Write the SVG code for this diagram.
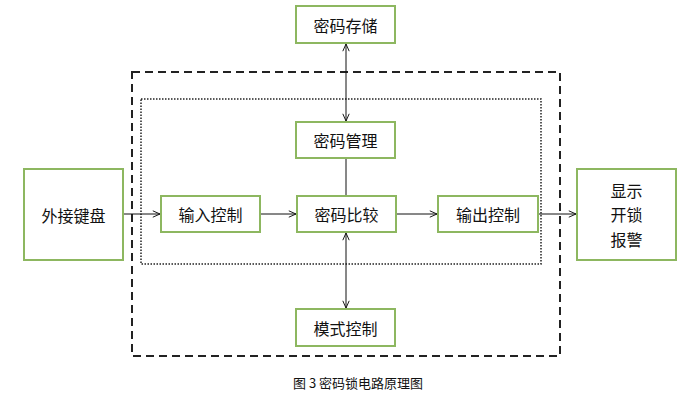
<svg xmlns="http://www.w3.org/2000/svg" width="698" height="414" viewBox="0 0 698 414">
<defs>
<style>
.box{fill:#fff;stroke:#8db760;stroke-width:2}
.t{font-family:"Noto Sans CJK SC","Noto Sans",sans-serif;font-size:16px;fill:#111;text-anchor:middle;dominant-baseline:central}
.c{font-family:"Noto Sans CJK SC","Noto Sans",sans-serif;font-size:13px;fill:#111;text-anchor:middle}
.ln{stroke:#111;stroke-width:1;fill:none}
</style>
<marker id="ah" viewBox="0 0 10 10" refX="10" refY="5" markerWidth="8" markerHeight="8" orient="auto-start-reverse" markerUnits="userSpaceOnUse">
<path d="M1,1 L10,5 L1,9" fill="none" stroke="#111" stroke-width="1.2"/>
</marker>
</defs>
<rect width="698" height="414" fill="#fff"/>
<rect x="132" y="72" width="428" height="284" fill="none" stroke="#222" stroke-width="2" stroke-dasharray="8,5"/>
<rect x="141" y="99" width="400" height="165" fill="none" stroke="#222" stroke-width="1.5" stroke-dasharray="1.5,1.5"/>
<g id="connectors">
<line class="ln" x1="346" y1="44" x2="346" y2="121" marker-start="url(#ah)" marker-end="url(#ah)"/>
<line class="ln" x1="346" y1="159" x2="346" y2="196"/>
<line class="ln" x1="346" y1="233" x2="346" y2="308" marker-start="url(#ah)" marker-end="url(#ah)"/>
<line class="ln" x1="124" y1="214" x2="160" y2="214" marker-end="url(#ah)"/>
<line class="ln" x1="261" y1="214" x2="296" y2="214" marker-end="url(#ah)"/>
<line class="ln" x1="397" y1="214" x2="437" y2="214" marker-end="url(#ah)"/>
<line class="ln" x1="539" y1="214" x2="576" y2="214" marker-end="url(#ah)"/>
</g>
<g id="n-store"><rect class="box" x="296" y="6" width="99" height="37"/><text class="t" x="345.5" y="24.5">密码存储</text></g>
<g id="n-manage"><rect class="box" x="296" y="122" width="99" height="36"/><text class="t" x="345.5" y="140">密码管理</text></g>
<g id="n-keyboard"><rect class="box" x="24" y="169" width="99" height="91"/><text class="t" x="73.5" y="214.5">外接键盘</text></g>
<g id="n-input"><rect class="box" x="161" y="196" width="99" height="36"/><text class="t" x="210.5" y="214">输入控制</text></g>
<g id="n-compare"><rect class="box" x="297" y="196" width="99" height="36"/><text class="t" x="346.5" y="214">密码比较</text></g>
<g id="n-output"><rect class="box" x="438" y="196" width="100" height="36"/><text class="t" x="488" y="214">输出控制</text></g>
<g id="n-display"><rect class="box" x="577" y="169" width="99" height="91"/><text class="t" x="626.5" y="190">显示</text><text class="t" x="626.5" y="214">开锁</text><text class="t" x="626.5" y="239">报警</text></g>
<g id="n-mode"><rect class="box" x="296" y="309" width="99" height="37"/><text class="t" x="345.5" y="327.5">模式控制</text></g>
<text class="c" x="358" y="388">图 3 密码锁电路原理图</text>
</svg>
